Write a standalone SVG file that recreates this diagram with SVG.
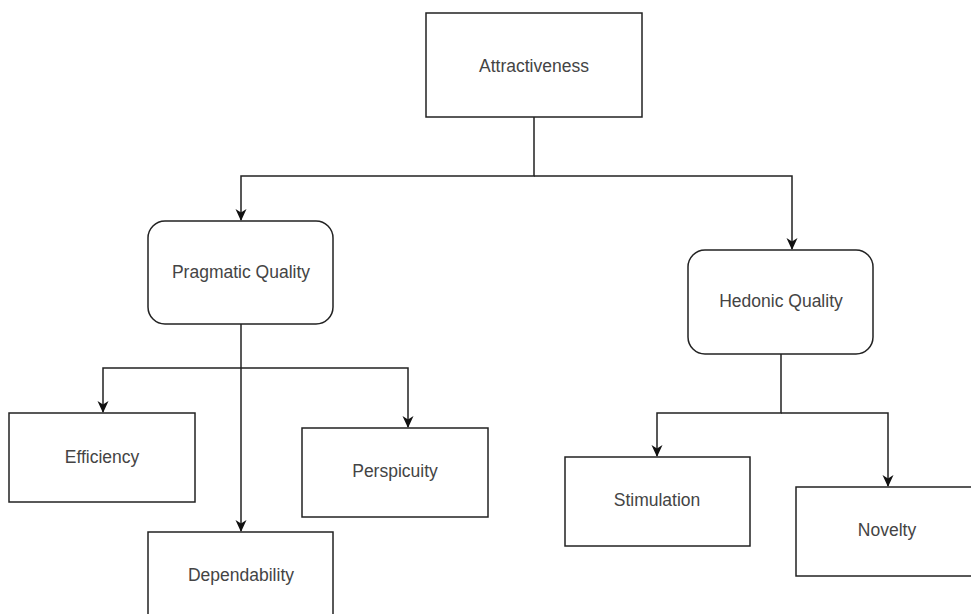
<svg xmlns="http://www.w3.org/2000/svg" width="971" height="614" viewBox="0 0 971 614">
<style>
.box{fill:#fff;stroke:#222;stroke-width:1.5}
.lbl{font-family:"Liberation Sans",Arial,sans-serif;font-size:17.5px;fill:#444;text-anchor:middle;dominant-baseline:central}
.con{fill:none;stroke:#222;stroke-width:1.5}
</style>
<defs>
<marker id="arr" viewBox="0 0 12 12" refX="11" refY="6" markerWidth="12" markerHeight="12" markerUnits="userSpaceOnUse" orient="auto">
<path d="M0 0.5 L12 6 L0 11.5 L3.5 6 Z" fill="#111"/>
</marker>
</defs>
<rect width="971" height="614" fill="#fff"/>
<g id="connectors">
<path class="con" d="M534 117 V176 H241 V220" marker-end="url(#arr)"/>
<path class="con" d="M534 176 H792 V249" marker-end="url(#arr)"/>
<path class="con" d="M241 324 V531" marker-end="url(#arr)"/>
<path class="con" d="M241 368 H103 V412" marker-end="url(#arr)"/>
<path class="con" d="M241 368 H408 V427" marker-end="url(#arr)"/>
<path class="con" d="M781 354 V413 H657 V456" marker-end="url(#arr)"/>
<path class="con" d="M781 413 H888 V486" marker-end="url(#arr)"/>
</g>
<g id="attractiveness">
<rect class="box" x="426" y="13" width="216" height="104"/>
<text class="lbl" x="534" y="66">Attractiveness</text>
</g>
<g id="pragmatic">
<rect class="box" x="148" y="221" width="185" height="103" rx="17"/>
<text class="lbl" x="241" y="272">Pragmatic Quality</text>
</g>
<g id="hedonic">
<rect class="box" x="688" y="250" width="185" height="104" rx="17"/>
<text class="lbl" x="781" y="301">Hedonic Quality</text>
</g>
<g id="efficiency">
<rect class="box" x="9" y="413" width="186" height="89"/>
<text class="lbl" x="102" y="457">Efficiency</text>
</g>
<g id="perspicuity">
<rect class="box" x="302" y="428" width="186" height="89"/>
<text class="lbl" x="395" y="471">Perspicuity</text>
</g>
<g id="dependability">
<rect class="box" x="148" y="532" width="185" height="90"/>
<text class="lbl" x="241" y="575">Dependability</text>
</g>
<g id="stimulation">
<rect class="box" x="565" y="457" width="185" height="89"/>
<text class="lbl" x="657" y="500">Stimulation</text>
</g>
<g id="novelty">
<rect class="box" x="796" y="487" width="185" height="89"/>
<text class="lbl" x="887" y="530">Novelty</text>
</g>
</svg>
